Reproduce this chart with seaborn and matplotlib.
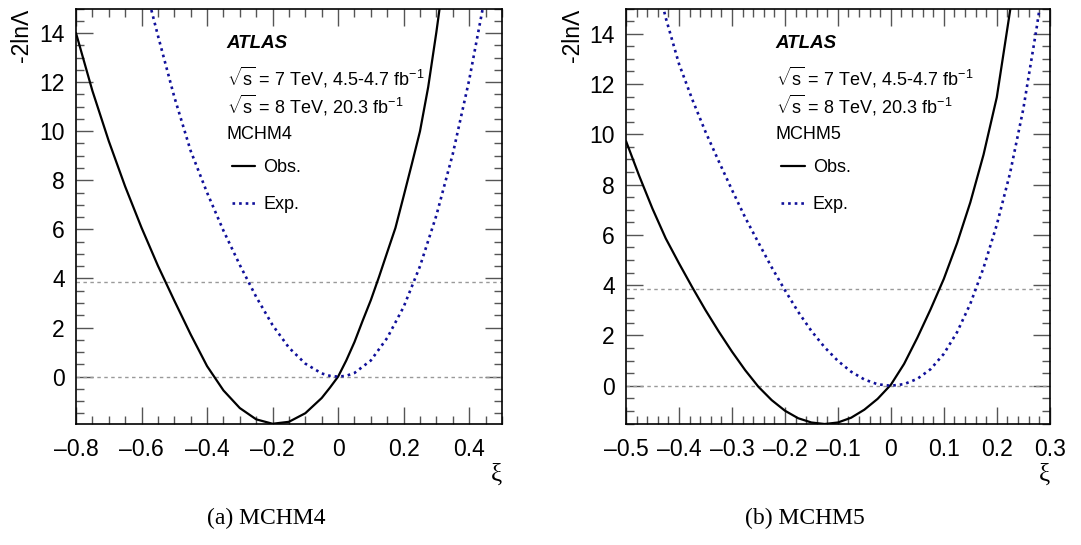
import matplotlib
matplotlib.use("Agg")
import matplotlib.pyplot as plt
import seaborn as sns
from matplotlib.ticker import MultipleLocator, FuncFormatter

# ---- data ----
# MCHM4
xi4_obs = [-0.80, -0.75, -0.70, -0.65, -0.60, -0.55, -0.50, -0.45, -0.40, -0.35, -0.30,
           -0.25, -0.20, -0.15, -0.10, -0.05, -0.025, 0.00, 0.025, 0.05, 0.075, 0.10,
           0.125, 0.15, 0.175, 0.20, 0.225, 0.25, 0.275, 0.30, 0.32]
nll4_obs = [14.0, 11.65, 9.6, 7.75, 6.07, 4.52, 3.1, 1.72, 0.43, -0.56, -1.28,
            -1.74, -1.92, -1.84, -1.49, -0.87, -0.45, 0.0, 0.66, 1.41, 2.28, 3.12,
            4.07, 5.07, 6.06, 7.35, 8.66, 10.0, 11.8, 14.04, 16.0]
xi4_exp = [-0.575, -0.55, -0.50, -0.45, -0.40, -0.35, -0.30, -0.25, -0.20, -0.15, -0.10,
           -0.05, -0.025, 0.00, 0.025, 0.05, 0.10, 0.15, 0.20, 0.25, 0.30, 0.35, 0.40, 0.45]
nll4_exp = [15.2, 13.9, 11.4, 9.2, 7.5, 5.95, 4.55, 3.25, 2.1, 1.18, 0.53,
            0.13, 0.033, 0.0, 0.035, 0.15, 0.66, 1.58, 2.84, 4.5, 6.57, 9.07, 12.08, 15.6]

# MCHM5
xi5_obs = [-0.500, -0.475, -0.450, -0.425, -0.400, -0.375, -0.350, -0.325, -0.300, -0.275,
           -0.250, -0.225, -0.200, -0.175, -0.150, -0.125, -0.100, -0.075, -0.050, -0.025,
           0.000, 0.025, 0.050, 0.075, 0.100, 0.125, 0.150, 0.175, 0.200, 0.225, 0.235]
nll5_obs = [9.73, 8.34, 7.04, 5.86, 4.87, 3.92, 3.01, 2.16, 1.36, 0.62,
            -0.04, -0.57, -0.99, -1.29, -1.46, -1.52, -1.46, -1.27, -0.95, -0.52,
            0.04, 0.87, 1.91, 3.04, 4.25, 5.67, 7.29, 9.19, 11.47, 14.9, 16.4]
xi5_exp = [-0.435, -0.425, -0.400, -0.375, -0.350, -0.325, -0.300, -0.275, -0.250, -0.225,
           -0.200, -0.175, -0.150, -0.125, -0.100, -0.075, -0.050, -0.025, 0.000, 0.025,
           0.050, 0.075, 0.100, 0.125, 0.150, 0.175, 0.200, 0.225, 0.250, 0.275, 0.285]
nll5_exp = [15.5, 14.63, 12.8, 11.39, 10.1, 8.93, 7.79, 6.69, 5.69, 4.71,
            3.8, 2.94, 2.18, 1.53, 0.99, 0.56, 0.25, 0.06, 0.0, 0.066,
            0.275, 0.66, 1.27, 2.13, 3.26, 4.69, 6.4, 8.45, 11.0, 14.2, 15.6]

ref_levels = [0.0, 3.84]
models = ["MCHM4", "MCHM5"]
captions = ["(a) MCHM4", "(b) MCHM5"]
info_lines = ["$\\sqrt{\\mathrm{s}}$ = 7 TeV, 4.5-4.7 fb$^{-1}$",
              "$\\sqrt{\\mathrm{s}}$ = 8 TeV, 20.3 fb$^{-1}$"]

sns.set_theme(style="ticks")
plt.rcParams["font.family"] = ["Liberation Sans", "DejaVu Sans"]
plt.rcParams["mathtext.fontset"] = "custom"
plt.rcParams["mathtext.rm"] = "Liberation Sans"
plt.rcParams["mathtext.it"] = "Liberation Sans:italic"
plt.rcParams["axes.unicode_minus"] = False
plt.rcParams["text.color"] = "black"
plt.rcParams["axes.labelcolor"] = "black"

fig = plt.figure(figsize=(10.81, 5.45), dpi=100)
ax_a = fig.add_axes([0.0703, 0.222, 0.394, 0.7624])
ax_b = fig.add_axes([0.5791, 0.222, 0.392, 0.7624])

panels = [
    (ax_a, xi4_obs, nll4_obs, xi4_exp, nll4_exp, (-0.8, 0.5), (-1.93, 15), 0.2, 0.05),
    (ax_b, xi5_obs, nll5_obs, xi5_exp, nll5_exp, (-0.5, 0.3), (-1.52, 15), 0.1, 0.02),
]

fmt = FuncFormatter(lambda v, p: ("%g" % round(v, 4)).replace("-", "\u2013"))

for i, (ax, xo, yo, xe, ye, xl, yl, xmaj, xmin) in enumerate(panels):
    for lv in ref_levels:
        ax.axhline(lv, color="#999999", lw=1.0, ls=(0, (2.5, 2.5)), zorder=1)
    sns.lineplot(x=xo, y=yo, ax=ax, color="black", lw=1.6, label="Obs.",
                 estimator=None, sort=False, zorder=3)
    sns.lineplot(x=xe, y=ye, ax=ax, color="#10109a", lw=1.9, label="Exp.",
                 estimator=None, sort=False, zorder=3)
    ax.lines[-1].set_linestyle((0, (1, 1.5)))
    ax.set_xlim(*xl)
    ax.set_ylim(*yl)

    ax.xaxis.set_major_locator(MultipleLocator(xmaj))
    ax.xaxis.set_minor_locator(MultipleLocator(xmin))
    ax.yaxis.set_major_locator(MultipleLocator(2))
    ax.yaxis.set_minor_locator(MultipleLocator(0.5))
    ax.xaxis.set_major_formatter(fmt)
    ax.yaxis.set_major_formatter(fmt)
    ax.tick_params(which="both", direction="in", top=True, right=True,
                   color="#555555", width=1.0)
    ax.tick_params(which="major", length=12, labelsize=16.5, labelcolor="black")
    ax.tick_params(axis="x", which="major", pad=10)
    ax.tick_params(axis="y", which="major", pad=8)
    ax.tick_params(which="minor", length=6)
    for s in ax.spines.values():
        s.set_color("black")
        s.set_linewidth(1.2)

    ax.set_xlabel("\u03be", loc="right", fontsize=18, family="Liberation Serif", labelpad=2)
    ax.set_ylabel("-2ln\u039b", loc="top", fontsize=16.5)
    ax.yaxis.set_label_coords(-0.1, 1.0)

    ax.text(0.352, 0.905, "ATLAS", transform=ax.transAxes, fontsize=13.5,
            fontweight="bold", fontstyle="italic")
    ax.text(0.354, 0.815, info_lines[0], transform=ax.transAxes, fontsize=13)
    ax.text(0.354, 0.747, info_lines[1], transform=ax.transAxes, fontsize=13)
    ax.text(0.353, 0.685, models[i], transform=ax.transAxes, fontsize=13)
    ax.legend(loc="upper left", bbox_to_anchor=(0.366, 0.638), frameon=False,
              fontsize=13, borderpad=0, borderaxespad=0, handlelength=1.3,
              handletextpad=0.45, labelspacing=1.12)

fig.text(0.246, 0.048, captions[0], ha="center", va="center", fontsize=17,
         family="Liberation Serif")
fig.text(0.745, 0.048, captions[1], ha="center", va="center", fontsize=17,
         family="Liberation Serif")

fig.savefig("out.png", dpi=100)
